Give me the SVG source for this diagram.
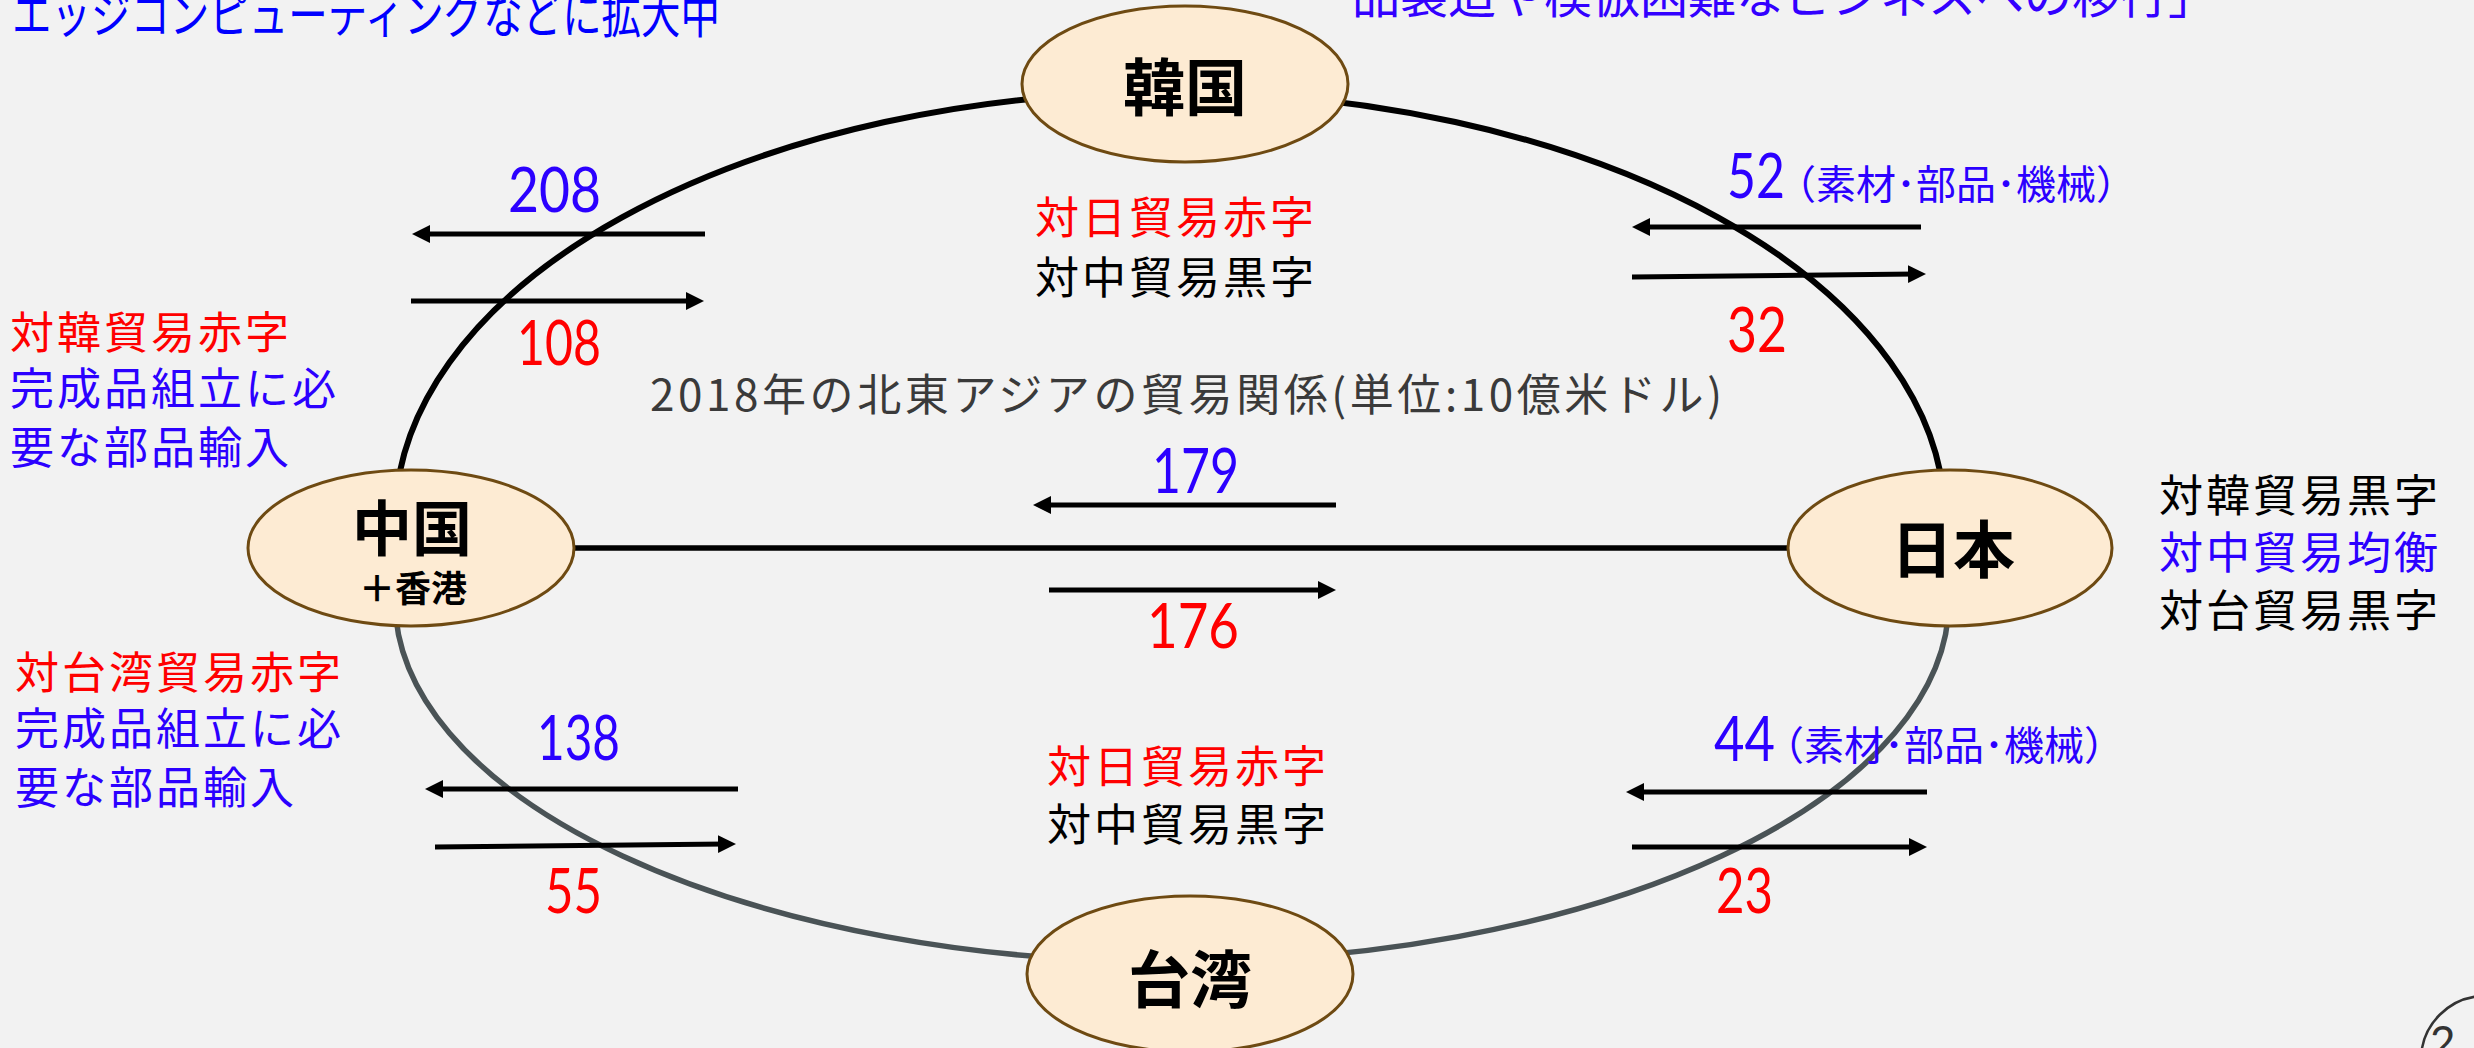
<svg xmlns="http://www.w3.org/2000/svg" width="2474" height="1048" viewBox="0 0 2474 1048">
<defs>
<marker id="ah" markerUnits="userSpaceOnUse" markerWidth="20" markerHeight="20" viewBox="0 0 20 20" refX="8" refY="10" orient="auto"><path d="M0,1 L18,10 L0,19 z" fill="#000"/></marker>
</defs>
<style>
.jp{font-family:'Noto Sans CJK JP','Noto Sans CJK SC',sans-serif;}
.lbl{font-size:44px;letter-spacing:3px;}
.red{fill:#ff0000}
.blue{fill:#2b00ff}
.blk{fill:#000}
.num{font-family:Lato,'Noto Sans',sans-serif;font-size:61px;}
.node ellipse{fill:#fdebd3;stroke:#6e4a12;stroke-width:3}
.nt{font-family:'Noto Sans CJK JP','Noto Sans CJK SC',sans-serif;font-weight:700;text-anchor:middle;fill:#000}
.arr{stroke:#000;stroke-width:5;fill:none;marker-end:url(#ah)}
</style>
<rect x="0" y="0" width="2474" height="1048" fill="#f2f2f2"/>

<!-- top notes (cut off) -->
<text class="jp" x="12" y="33" font-size="50" fill="#0000ff" textLength="708" lengthAdjust="spacingAndGlyphs">エッジコンピューティングなどに拡大中</text>
<text class="jp" x="1352" y="13" font-size="48" fill="#3300ff">品製造や模倣困難なビジネスへの移行」</text>

<!-- connectors -->
<g id="connectors" fill="none">
  <path d="M395,520 A775,428 0 0 1 1945,520" stroke="#000" stroke-width="6"/>
  <path d="M395,600 A777,362 0 0 0 1949,600" stroke="#4a5356" stroke-width="5.5"/>
  <path d="M574,548 H1788" stroke="#000" stroke-width="5.5"/>
</g>

<!-- nodes -->
<g id="node-korea" class="node">
  <ellipse cx="1185" cy="84" rx="163" ry="78"/>
  <text class="nt" x="1185" y="111" font-size="62">韓国</text>
</g>
<g id="node-china" class="node">
  <ellipse cx="411" cy="548" rx="163" ry="78"/>
  <text class="nt" x="412" y="551" font-size="60">中国</text>
  <text class="nt" x="413" y="602" font-size="36">＋香港</text>
</g>
<g id="node-japan" class="node">
  <ellipse cx="1950" cy="548" rx="162" ry="78"/>
  <text class="nt" x="1953" y="573" font-size="62">日本</text>
</g>
<g id="node-taiwan" class="node">
  <ellipse cx="1190" cy="974" rx="163" ry="78"/>
  <text class="nt" x="1190" y="1003" font-size="62">台湾</text>
</g>

<!-- trade flow arrows -->
<g id="flows">
  <path class="arr" d="M705,234 H422"/>
  <path class="arr" d="M411,301 H694"/>
  <path class="arr" d="M1921,227 H1642"/>
  <path class="arr" d="M1632,277 L1916,274"/>
  <path class="arr" d="M1336,505 H1043"/>
  <path class="arr" d="M1049,590 H1326"/>
  <path class="arr" d="M738,789 H435"/>
  <path class="arr" d="M435,847 L726,844"/>
  <path class="arr" d="M1927,792 H1636"/>
  <path class="arr" d="M1632,847 H1917"/>
</g>

<!-- flow values -->
<g id="values">
  <text class="num blue" x="508" y="212" textLength="93" lengthAdjust="spacingAndGlyphs">208</text>
  <text class="num red" x="517" y="365" textLength="84" lengthAdjust="spacingAndGlyphs">108</text>
  <text class="num blue" x="1727" y="198" textLength="58" lengthAdjust="spacingAndGlyphs">52</text>
  <text class="jp blue" x="1776" y="199" font-size="40">（素材･部品･機械）</text>
  <text class="num red" x="1727" y="352" textLength="60" lengthAdjust="spacingAndGlyphs">32</text>
  <text class="num blue" x="1152" y="493" textLength="87" lengthAdjust="spacingAndGlyphs">179</text>
  <text class="num red" x="1147" y="648" textLength="92" lengthAdjust="spacingAndGlyphs">176</text>
  <text class="num blue" x="537" y="760" textLength="83" lengthAdjust="spacingAndGlyphs">138</text>
  <text class="num red" x="545" y="913" textLength="57" lengthAdjust="spacingAndGlyphs">55</text>
  <text class="num blue" x="1714" y="761" textLength="61" lengthAdjust="spacingAndGlyphs">44</text>
  <text class="jp blue" x="1764" y="760" font-size="40">（素材･部品･機械）</text>
  <text class="num red" x="1716" y="913" textLength="57" lengthAdjust="spacingAndGlyphs">23</text>
</g>

<!-- balance notes -->
<g id="notes" class="jp lbl">
  <text class="red" x="1035" y="234">対日貿易赤字</text>
  <text class="blk" x="1035" y="294">対中貿易黒字</text>
  <text class="red" x="1047" y="783">対日貿易赤字</text>
  <text class="blk" x="1047" y="841">対中貿易黒字</text>

  <text class="red" x="10" y="349">対韓貿易赤字</text>
  <text class="blue" x="10" y="405">完成品組立に必</text>
  <text class="blue" x="10" y="464">要な部品輸入</text>

  <text class="red" x="15" y="689">対台湾貿易赤字</text>
  <text class="blue" x="15" y="745">完成品組立に必</text>
  <text class="blue" x="15" y="804">要な部品輸入</text>

  <text class="blk" x="2159" y="512">対韓貿易黒字</text>
  <text class="blue" x="2159" y="569">対中貿易均衡</text>
  <text class="blk" x="2159" y="627">対台貿易黒字</text>
</g>

<text class="jp" x="650" y="411" font-size="44" fill="#3a3a3a" textLength="1072">2018年の北東アジアの貿易関係(単位:10億米ドル)</text>

<!-- page number badge (cut off) -->
<g id="page-badge">
  <circle cx="2485" cy="1060" r="64" fill="none" stroke="#333" stroke-width="2.5"/>
  <text x="2430" y="1058" font-family="Lato,'Noto Sans',sans-serif" font-size="44" fill="#333">2</text>
</g>
</svg>
